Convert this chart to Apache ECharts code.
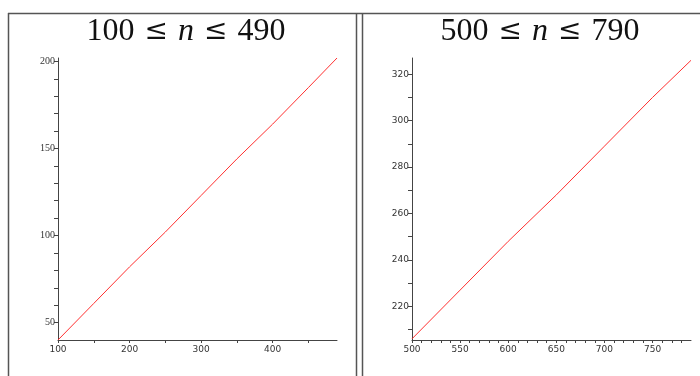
<!DOCTYPE html>
<html>
<head>
<meta charset="utf-8">
<script src="https://cdn.jsdelivr.net/npm/echarts@6/dist/echarts.min.js"></script>
<style>
html, body { margin: 0; padding: 0; background: #fff; }
#chart { width: 700px; height: 376px; }
</style>
</head>
<body>
<div id="chart"></div>
<script>
// values
const nLeft = [100, 150, 200, 250, 300, 350, 400, 450, 490];
const countLeft = [40, 61, 82, 102, 123, 144, 164, 185, 202];
const nRight = [500, 550, 600, 650, 700, 750, 790];
const countRight = [206, 227, 248, 268, 289, 310, 326];

const leftXTicks = [100, 150, 200, 250, 300, 350, 400, 450];
const leftXLabels = [100, 200, 300, 400];
const leftYTicks = [50, 60, 70, 80, 90, 100, 110, 120, 130, 140, 150, 160, 170, 180, 190, 200];
const leftYLabels = [50, 100, 150, 200];
const rightXTicks = [500, 510, 520, 530, 540, 550, 560, 570, 580, 590, 600, 610, 620, 630, 640, 650, 660, 670, 680, 690, 700, 710, 720, 730, 740, 750, 760, 770, 780];
const rightXLabels = [500, 550, 600, 650, 700, 750];
const rightYTicks = [210, 220, 230, 240, 250, 260, 270, 280, 290, 300, 310, 320];
const rightYLabels = [220, 240, 260, 280, 300, 320];

const axisColor = '#444';
const frameColor = '#555';

function pairs(xs, ys) {
    let out = [];
    for (let i = 0; i < xs.length; i++) {
        out.push([xs[i], ys[i]]);
    }
    return out;
}

function xAxis(idx, min, max, ticks, labels) {
    return {
        type: 'value', gridIndex: idx, min: min, max: max,
        axisLine: { show: true, lineStyle: { color: axisColor, width: 1 } },
        axisTick: { show: true, length: 3, customValues: ticks, lineStyle: { color: axisColor } },
        axisLabel: { customValues: labels, margin: 5, color: '#333', fontSize: 9, fontFamily: 'DejaVu Sans' },
        splitLine: { show: false }
    };
}

function yAxis(idx, min, max, ticks, labels, font, size) {
    return {
        type: 'value', gridIndex: idx, min: min, max: max,
        axisLine: { show: true, lineStyle: { color: axisColor, width: 1 } },
        axisTick: { show: true, length: 4, customValues: ticks, lineStyle: { color: axisColor } },
        axisLabel: { customValues: labels, margin: 3, color: '#333', fontSize: size, fontFamily: font },
        splitLine: { show: false }
    };
}

const titleRich = {
    a: { fontFamily: 'Liberation Serif', fontWeight: 'normal', fontSize: 32, color: '#111' },
    s: { fontFamily: 'DejaVu Serif', fontWeight: 'normal', fontSize: 28, color: '#111', padding: [0, 10] },
    i: { fontFamily: 'Liberation Serif', fontWeight: 'normal', fontStyle: 'italic', fontSize: 32, color: '#111' }
};

const chart = echarts.init(document.getElementById('chart'));
const option = {
    animation: false,
    title: [
        { text: '{a|100}{s|≤}{i|n}{s|≤}{a|490}', left: 181, top: 11, textAlign: 'center', textStyle: { fontWeight: 'normal', rich: titleRich } },
        { text: '{a|500}{s|≤}{i|n}{s|≤}{a|790}', left: 535, top: 11, textAlign: 'center', textStyle: { fontWeight: 'normal', rich: titleRich } }
    ],
    grid: [
        { left: 58, right: 363, top: 58, bottom: 36 },
        { left: 412, right: 9, top: 58, bottom: 36 }
    ],
    xAxis: [
        xAxis(0, 100, 490, leftXTicks, leftXLabels),
        xAxis(1, 500, 790, rightXTicks, rightXLabels)
    ],
    yAxis: [
        yAxis(0, 40, 202, leftYTicks, leftYLabels, 'Liberation Serif', 10),
        yAxis(1, 205.5, 327, rightYTicks, rightYLabels, 'DejaVu Sans', 9)
    ],
    series: [
        {
            type: 'line', xAxisIndex: 0, yAxisIndex: 0, showSymbol: false,
            lineStyle: { color: '#ff3030', width: 1 }, data: pairs(nLeft, countLeft)
        },
        {
            type: 'line', xAxisIndex: 1, yAxisIndex: 1, showSymbol: false,
            lineStyle: { color: '#ff3030', width: 1 }, data: pairs(nRight, countRight)
        }
    ],
    graphic: [
        { type: 'line', shape: { x1: 8, y1: 13.5, x2: 700, y2: 13.5 }, style: { stroke: frameColor, lineWidth: 1.5 } },
        { type: 'line', shape: { x1: 8.5, y1: 13, x2: 8.5, y2: 376 }, style: { stroke: frameColor, lineWidth: 1.5 } },
        { type: 'line', shape: { x1: 356.5, y1: 13, x2: 356.5, y2: 376 }, style: { stroke: frameColor, lineWidth: 1.5 } },
        { type: 'line', shape: { x1: 362.5, y1: 13, x2: 362.5, y2: 376 }, style: { stroke: frameColor, lineWidth: 1.5 } }
    ]
};
chart.setOption(option);
</script>
</body>
</html>
